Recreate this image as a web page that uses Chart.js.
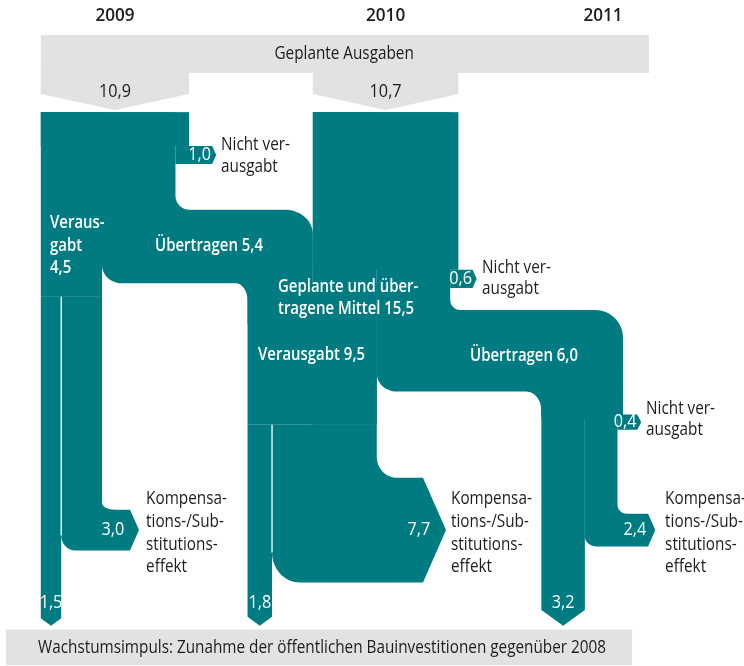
<!DOCTYPE html>
<html>
<head>
<meta charset="utf-8">
<script src="https://cdn.jsdelivr.net/npm/chart.js@4"></script>
<style>
  html, body { margin: 0; padding: 0; background: #fff; }
  #wrap { width: 744px; height: 666px; }
</style>
</head>
<body>
<div id="wrap"><canvas id="flowChart"></canvas></div>
<script>
// values in Mrd. Euro (widths of the flows)
const years = ['2009', '2010', '2011'];
const planned = [10.9, 10.7];          // Geplante Ausgaben
const spent = [4.5, 9.5];              // Verausgabt
const carried = [5.4, 6.0];            // Übertragen
const notSpent = [1.0, 0.6, 0.4];      // Nicht verausgabt
const available = [15.5];              // 2010: geplante und übertragene Mittel
const growth = [1.5, 1.8, 3.2];        // Wachstumsimpuls
const substitution = [3.0, 7.7, 2.4];  // Kompensations-/Substitutionseffekt

const fmt = v => v.toFixed(1).replace('.', ',');

// layout, in flow units (1 unit = 1 Mrd.)
const L = {
  col09: 3.0, col10: 23.0, col11R: 45.8,
  greyTop: 2.57, greyBot: 5.37, funnelSide: 6.91, funnelTip: 8.09, greyRight: 47.72,
  top: 8.25,
  nubTop: [10.74, 19.85, 30.5], nubBot: [12.06, 21.18, 31.62], nubLen: [1.7, 1.05, 1.05],
  c09Top: 15.44, c10Top: 22.8,
  split: [21.84, 31.25],
  branchTop: [37.5, 35.15, 37.8], flat: [9.56, 31.1, 47.65],
  tipY: 46.03,
  footL: 0.44, footR: 46.47, footTop: 46.32, footBot: 48.95
};

const teal = '#007b82';
const grey = '#e1e2e4';
const ink = '#1d1d1b';
const KAPPA = 0.552;

function roundPoly(ctx, pts) {
  const n = pts.length;
  ctx.beginPath();
  pts.forEach((p, i) => {
    const [px, py, r] = p;
    if (!r) { if (i === 0) ctx.moveTo(px, py); else ctx.lineTo(px, py); return; }
    const [r1, r2] = Array.isArray(r) ? r : [r, r];
    const a = pts[(i - 1 + n) % n], b = pts[(i + 1) % n];
    const l1 = Math.hypot(px - a[0], py - a[1]), l2 = Math.hypot(b[0] - px, b[1] - py);
    const s = [px - (px - a[0]) / l1 * r1, py - (py - a[1]) / l1 * r1];
    const e = [px + (b[0] - px) / l2 * r2, py + (b[1] - py) / l2 * r2];
    if (i === 0) ctx.moveTo(s[0], s[1]); else ctx.lineTo(s[0], s[1]);
    ctx.bezierCurveTo(s[0] + (px - s[0]) * KAPPA, s[1] + (py - s[1]) * KAPPA,
                      e[0] + (px - e[0]) * KAPPA, e[1] + (py - e[1]) * KAPPA, e[0], e[1]);
  });
  ctx.closePath();
  ctx.fill();
}

function label(ctx, s, x, y, o = {}) {
  ctx.save();
  ctx.font = `${o.bold ? '600 ' : ''}${o.size || 18}px "Open Sans", "Noto Sans", sans-serif`;
  ctx.fillStyle = o.color || ink;
  ctx.textBaseline = 'middle';
  ctx.textAlign = o.align || 'left';
  ctx.translate(x, y);
  ctx.scale(o.sx || (o.bold ? 0.83 : 0.85), 1);
  ctx.fillText(s, 0, 0);
  ctx.restore();
}

const flowPlugin = {
  id: 'flows',
  afterDraw(chart) {
    const { ctx, scales: { x, y } } = chart;
    const X = v => x.getPixelForValue(v), Y = v => y.getPixelForValue(v);
    const pt = (a, b, r) => [X(a), Y(b), r];
    const rect = (x0, y0, x1, y1) => ctx.fillRect(X(x0), Y(y0), X(x1) - X(x0), Y(y1) - Y(y0));

    const col09R = L.col09 + planned[0];
    const col10R = L.col10 + planned[1];
    const s09R = L.col09 + spent[0];
    const n09L = col09R - notSpent[0];
    const m10L = col10R - available[0];
    const s10R = m10L + spent[1];
    const n10L = col10R - notSpent[1];
    const c11L = L.col11R - carried[1];
    const n11L = L.col11R - notSpent[2];
    const c09b = L.c09Top + carried[0];
    const c10b = L.c10Top + carried[1];

    ctx.save();
    // grey header band and funnels
    ctx.fillStyle = grey;
    rect(L.col09, L.greyTop, L.greyRight, L.greyBot);
    [[L.col09, col09R], [L.col10, col10R]].forEach(([a, b]) => {
      roundPoly(ctx, [pt(a, L.greyBot - 0.1), pt(a, L.funnelSide), pt((a + b) / 2, L.funnelTip), pt(b, L.funnelSide), pt(b, L.greyBot - 0.1)]);
    });
    rect(L.footL, L.footTop, L.footR, L.footBot);

    ctx.fillStyle = teal;
    const nub = (xl, xr, i) => {
      const r = X(xr + L.nubLen[i]);
      roundPoly(ctx, [pt(xl, L.nubTop[i]), [r, Y(L.nubTop[i])], [r + 4, (Y(L.nubTop[i]) + Y(L.nubBot[i])) / 2], [r, Y(L.nubBot[i])], pt(xl, L.nubBot[i])]);
    };
    const stem = (x0, x1, yStart) => {
      const a = X(x0), b = X(x1), h = (b - a) / 2, tip = Y(L.tipY);
      roundPoly(ctx, [[a, Y(yStart)], [b, Y(yStart)], [b, tip - h * 0.72], [a + h, tip], [a, tip - h * 0.72]]);
    };
    const branch = (x0, x1, yStart, i, rIn, rOut) => {
      const top = L.branchTop[i], bot = top + substitution[i];
      const tipX = X(L.flat[i]) + (Y(bot) - Y(top)) * 0.22;
      roundPoly(ctx, [pt(x0, yStart), pt(x1, yStart), pt(x1, top, rIn), pt(L.flat[i], top),
        [tipX, Y(top + substitution[i] / 2)], pt(L.flat[i], bot), pt(x0, bot, rOut)]);
    };

    // 2009
    rect(L.col09, L.top, col09R, L.nubTop[0]);
    nub(n09L, col09R, 0);
    rect(L.col09, L.top, s09R, L.split[0]);
    roundPoly(ctx, [pt(s09R, L.top), pt(n09L, L.top), pt(n09L, L.c09Top, 14), pt(L.col10, L.c09Top, [28, 24]),
      pt(L.col10, c09b + 3), pt(m10L, c09b + 3), pt(m10L, c09b, [17, 12]), pt(s09R, c09b, [20, 18])]);
    stem(L.col09, L.col09 + growth[0], L.split[0]);
    branch(L.col09 + growth[0], s09R, L.split[0], 0, [7, 13], [14, 15]);

    // 2010
    rect(L.col10, L.top, col10R, L.nubTop[1]);
    nub(n10L, col10R, 1);
    rect(L.col10, L.top, s10R, L.split[1]);
    rect(m10L, c09b, s10R, L.split[1]);
    roundPoly(ctx, [pt(s10R, L.top), pt(n10L, L.top), pt(n10L, L.c10Top, 10), pt(L.col11R, L.c10Top, [28, 27]),
      pt(L.col11R, c10b + 2), pt(c11L, c10b + 2), pt(c11L, c10b, [19, 15]), pt(s10R, c10b, [20, 18])]);
    stem(m10L, m10L + growth[1], L.split[1]);
    branch(m10L + growth[1], s10R, L.split[1], 1, [21, 20], [28, 30]);

    // 2011
    rect(c11L, c10b, L.col11R, L.nubTop[2]);
    nub(n11L, L.col11R, 2);
    stem(c11L, c11L + growth[2], c10b);
    branch(c11L + growth[2], n11L, c10b, 2, [9, 9], [12, 10]);

    // thin gaps between the split stems
    ctx.strokeStyle = '#fff';
    ctx.lineWidth = 1.3;
    [[L.col09 + growth[0], L.split[0], L.branchTop[0] + substitution[0], 15],
     [m10L + growth[1], L.split[1], L.branchTop[1] + substitution[1], 30]].forEach(([gx, y0, y1, r]) => {
      ctx.beginPath();
      ctx.moveTo(X(gx), Y(y0));
      ctx.lineTo(X(gx), Y(y1) - r);
      ctx.stroke();
    });

    // header texts
    label(ctx, years[0], X(L.col09 + planned[0] / 2), Y(1.18), { bold: true, align: 'center', sx: 0.95 });
    label(ctx, years[1], X(L.col10 + planned[1] / 2), Y(1.18), { bold: true, align: 'center', sx: 0.95 });
    label(ctx, years[2], X(44.34), Y(1.18), { bold: true, align: 'center', sx: 0.95 });
    label(ctx, 'Geplante Ausgaben', X(25.3), Y((L.greyTop + L.greyBot) / 2), { align: 'center' });
    label(ctx, fmt(planned[0]), X(L.col09 + planned[0] / 2), Y(6.76), { align: 'center', sx: 0.9 });
    label(ctx, fmt(planned[1]), X(L.col10 + planned[1] / 2), Y(6.76), { align: 'center', sx: 0.9 });

    // not spent
    const notX = [16.25, 35.44, 47.5], notY = [10.66, 19.7, 30.07];
    const nubC = [14.67, 33.86, 45.96];
    notSpent.forEach((v, i) => {
      label(ctx, 'Nicht ver-', X(notX[i]), Y(notY[i]));
      label(ctx, 'ausgabt', X(notX[i]), Y(notY[i]) + 21.5);
      label(ctx, fmt(v), X(nubC[i]), Y((L.nubTop[i] + L.nubBot[i]) / 2), { color: '#fff', align: 'center', sx: 0.9 });
    });

    // white flow labels
    const w = { color: '#fff', bold: true };
    label(ctx, 'Veraus-', X(3.68), Y(16.4), w);
    label(ctx, 'gabt', X(3.68), Y(18.1), w);
    label(ctx, fmt(spent[0]), X(3.68), Y(19.7), w);
    label(ctx, 'Übertragen ' + fmt(carried[0]), X(11.4), Y(18.1), w);
    label(ctx, 'Geplante und über-', X(20.44), Y(21.1), w);
    label(ctx, 'tragene Mittel ' + fmt(available[0]), X(20.44), Y(22.7), w);
    label(ctx, 'Verausgabt ' + fmt(spent[1]), X(18.97), Y(26.1), w);
    label(ctx, 'Übertragen ' + fmt(carried[1]), X(34.56), Y(26.18), w);

    // substitution effect
    const subX = [10.74, 33.16, 48.9], subC = [8.3, 30.8, 46.67];
    const subLines = ['Kompensa-', 'tions-/Sub-', 'stitutions-', 'effekt'];
    substitution.forEach((v, i) => {
      subLines.forEach((s, k) => label(ctx, s, X(subX[i]), Y(36.7) + k * 22.8));
      label(ctx, fmt(v), X(subC[i]), Y(L.branchTop[i] + v / 2), { color: '#fff', align: 'center', sx: 0.9 });
    });

    // growth impulse
    const stemL = [L.col09, m10L, c11L];
    growth.forEach((v, i) => {
      label(ctx, fmt(v), X(stemL[i] + v / 2), Y(44.34), { color: '#fff', align: 'center', sx: 0.9 });
    });
    label(ctx, 'Wachstumsimpuls: Zunahme der öffentlichen Bauinvestitionen gegenüber 2008',
      X(2.8), Y((L.footTop + L.footBot) / 2));
    ctx.restore();
  }
};

new Chart(document.getElementById('flowChart'), {
  type: 'scatter',
  data: { datasets: [{ data: [] }] },
  options: {
    responsive: true,
    maintainAspectRatio: false,
    animation: false,
    layout: { padding: 0 },
    plugins: { legend: { display: false }, tooltip: { enabled: false } },
    scales: {
      x: { type: 'linear', min: 0, max: 54.7, display: false },
      y: { type: 'linear', min: 0, max: 49, reverse: true, display: false }
    }
  },
  plugins: [flowPlugin]
});
</script>
</body>
</html>
